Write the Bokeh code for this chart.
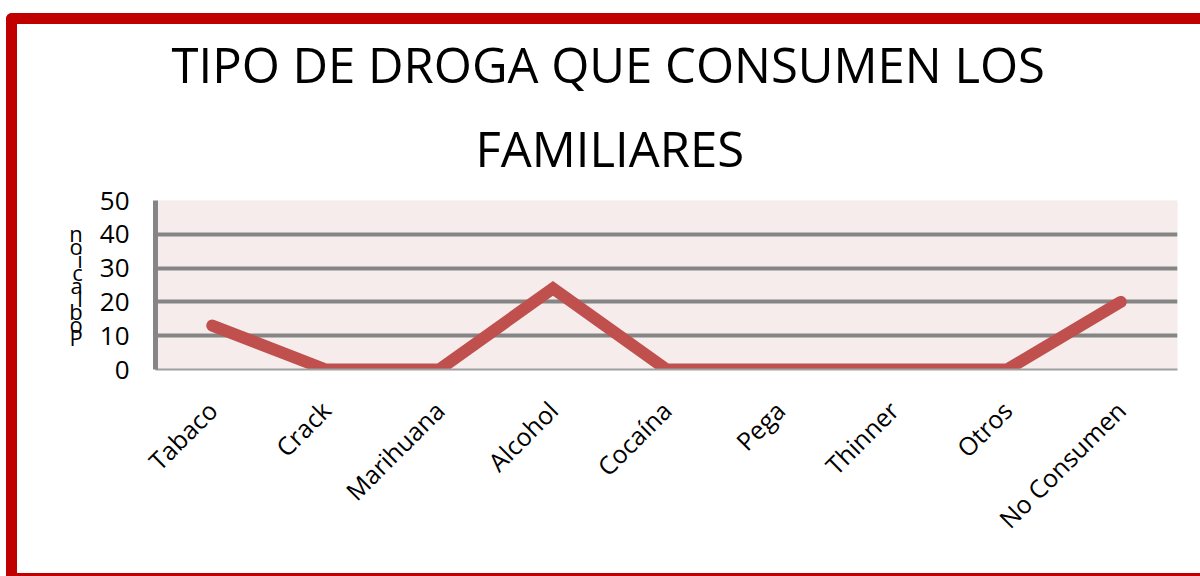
import math
from bokeh.plotting import figure
from bokeh.models import Range1d, FactorRange, Title, InlineStyleSheet, FixedTicker
from bokeh.embed import file_html
from bokeh.resources import INLINE

categories = ["Tabaco", "Crack", "Marihuana", "Alcohol", "Cocaína", "Pega", "Thinner", "Otros", "No Consumen"]
values = [13, 0, 0, 24, 0, 0, 0, 0, 20]
y_ticks = [0, 10, 20, 30, 40, 50]
title_lines = ["TIPO DE DROGA QUE CONSUMEN LOS", "FAMILIARES"]
y_label = "Poblacion"

W, H = 1194, 563

p = figure(x_range=FactorRange(*categories), y_range=Range1d(0, 50),
           width=W, height=H, output_backend="svg", toolbar_location=None,
           min_border_left=138, min_border_right=34, min_border_top=176, min_border_bottom=218)

p.stylesheets = [InlineStyleSheet(css=":host { overflow: hidden; margin-left: 6px; margin-top: 13px; border-top: 11px solid #C00000; border-left: 11px solid #C00000; border-bottom: 3px solid #C00000; border-top-left-radius: 6px; }")]

p.background_fill_color = "#F6ECEC"
p.border_fill_color = "white"
p.outline_line_color = None

p.line(categories, values, line_color="#C0504D", line_width=12, line_cap="round", line_join="miter")

p.yaxis.ticker = FixedTicker(ticks=y_ticks)
p.ygrid.ticker = FixedTicker(ticks=y_ticks)
p.ygrid.grid_line_color = "#858585"
p.ygrid.grid_line_width = 4
p.xgrid.grid_line_color = None

p.yaxis.axis_line_color = "#858585"
p.yaxis.axis_line_width = 5
p.yaxis.major_tick_line_color = None
p.yaxis.minor_tick_line_color = None
p.yaxis.major_label_text_font = "Open Sans"
p.yaxis.major_label_text_font_size = "26px"
p.yaxis.major_label_text_color = "black"
p.yaxis.major_label_standoff = 20

# stacked upright letters, read bottom to top
p.yaxis.axis_label = "\n".join(reversed(list(y_label)))
p.yaxis.axis_label_orientation = "horizontal"
p.yaxis.axis_label_text_font = "Open Sans"
p.yaxis.axis_label_text_font_size = "22px"
p.yaxis.axis_label_text_font_style = "normal"
p.yaxis.axis_label_text_color = "black"
p.yaxis.axis_label_text_line_height = 0.43
p.yaxis.axis_label_standoff = 14

p.xaxis.axis_line_color = "#A0A0A0"
p.xaxis.axis_line_width = 2
p.xaxis.major_tick_line_color = None
p.xaxis.minor_tick_line_color = None
p.xaxis.major_label_orientation = math.pi / 4
p.xaxis.major_label_text_font = "Open Sans"
p.xaxis.major_label_text_font_size = "25px"
p.xaxis.major_label_text_color = "black"
p.xaxis.major_label_standoff = 30

# Title lines (the later-added goes farther from the plot)
for line, standoff, offset, valign in zip(reversed(title_lines), [36, 0], [320, 16], ["top", "bottom"]):
    p.add_layout(Title(text=line, align="left", offset=offset, standoff=standoff, vertical_align=valign,
                       text_font="Open Sans", text_font_size="49px", text_font_style="normal",
                       text_line_height=1.0, text_color="black"), "above")

open("out.html", "w").write(file_html(p, INLINE))
